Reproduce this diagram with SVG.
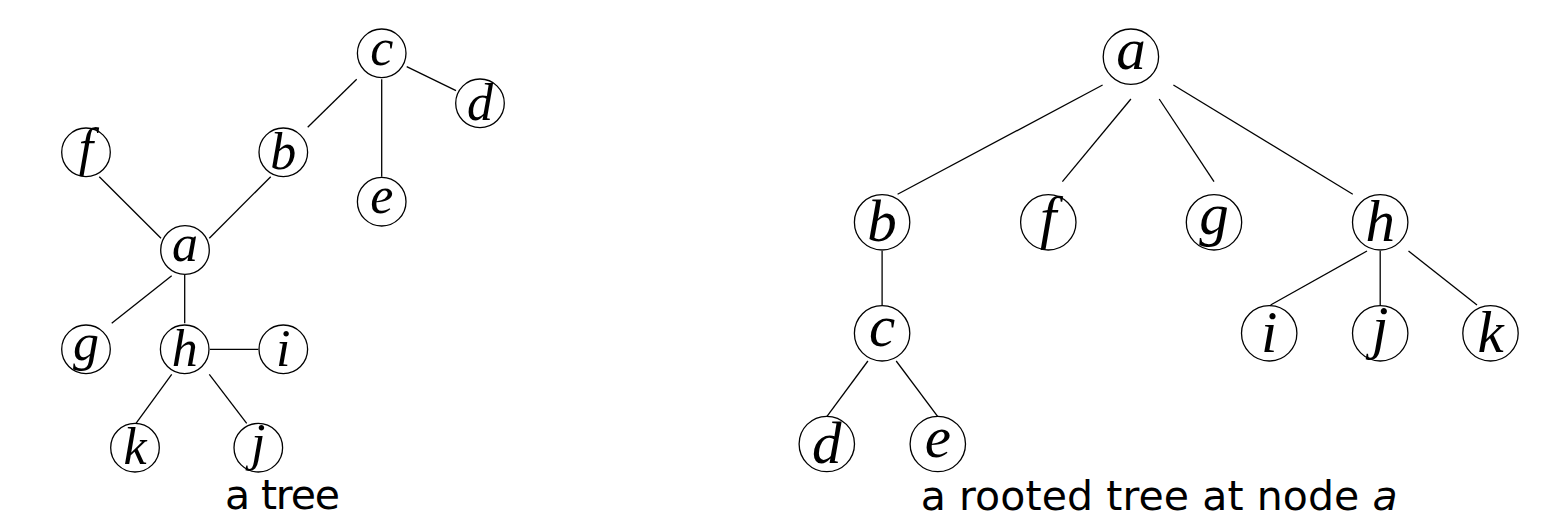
<svg xmlns="http://www.w3.org/2000/svg" width="1543" height="532" viewBox="0 0 1543 532">
<style>
  .bg { fill: #ffffff; }
  .edge { stroke: #000; stroke-width: 1.3; fill: none; }
  .node { fill: none; stroke: #000; stroke-width: 1.3; }
  .lbl { font-family: "Liberation Serif", "Times New Roman", serif; font-style: italic; text-anchor: middle; fill: #000; }
  .sm { font-size: 52px; }
  .lg { font-size: 59px; }
  .cap { font-family: "DejaVu Sans", "Liberation Sans", sans-serif; font-size: 41px; fill: #000; }
</style>
<rect class="bg" x="0" y="0" width="1543" height="532"/>

<g id="connectors">
  <!-- left tree -->
  <line class="edge" x1="356.7" y1="79.3" x2="307.7" y2="127.3"/>
  <line class="edge" x1="406.7" y1="66.7" x2="456" y2="90.7"/>
  <line class="edge" x1="381.7" y1="79.3" x2="381.7" y2="176.7"/>
  <line class="edge" x1="99.3" y1="176.7" x2="161" y2="238.3"/>
  <line class="edge" x1="209.3" y1="238.3" x2="270.7" y2="176.7"/>
  <line class="edge" x1="171.7" y1="275.7" x2="111.7" y2="323.3"/>
  <line class="edge" x1="184.7" y1="275" x2="184.7" y2="323.3"/>
  <line class="edge" x1="210" y1="349.3" x2="258.3" y2="349.3"/>
  <line class="edge" x1="171.7" y1="374.3" x2="136" y2="423.3"/>
  <line class="edge" x1="209.3" y1="374.3" x2="246.7" y2="423.3"/>
  <!-- right tree -->
  <line class="edge" x1="1102.6" y1="85" x2="897.6" y2="194.3"/>
  <line class="edge" x1="1130.9" y1="99" x2="1062.4" y2="181.7"/>
  <line class="edge" x1="1159.2" y1="99" x2="1214" y2="181.7"/>
  <line class="edge" x1="1173.4" y1="85" x2="1352.8" y2="194.3"/>
  <line class="edge" x1="882.1" y1="251" x2="882.1" y2="305"/>
  <line class="edge" x1="867.9" y1="361" x2="826.8" y2="416.7"/>
  <line class="edge" x1="896.2" y1="361" x2="937.8" y2="416.7"/>
  <line class="edge" x1="1367" y1="251" x2="1270.6" y2="305"/>
  <line class="edge" x1="1380.2" y1="251" x2="1380.2" y2="305"/>
  <line class="edge" x1="1408.5" y1="251" x2="1477" y2="305"/>
</g>

<!-- left tree nodes -->
<g id="L-c"><circle class="node" cx="381.7" cy="53.3" r="24.3"/><text class="lbl sm" x="381.7" y="64.5">c</text></g>
<g id="L-d"><circle class="node" cx="480" cy="103.3" r="24.3"/><text class="lbl sm" x="480" y="120">d</text></g>
<g id="L-b"><circle class="node" cx="283.3" cy="152.3" r="24.3"/><text class="lbl sm" x="283.3" y="168.8">b</text></g>
<g id="L-f"><circle class="node" cx="86" cy="152.3" r="24.3"/><text class="lbl sm" x="86" y="165">f</text></g>
<g id="L-e"><circle class="node" cx="381.7" cy="201.7" r="24.3"/><text class="lbl sm" x="381.7" y="212.7">e</text></g>
<g id="L-a"><circle class="node" cx="185" cy="250" r="24.3"/><text class="lbl sm" x="185" y="261">a</text></g>
<g id="L-g"><circle class="node" cx="86" cy="349.3" r="24.3"/><text class="lbl sm" x="86" y="360">g</text></g>
<g id="L-h"><circle class="node" cx="184.7" cy="349.3" r="24.3"/><text class="lbl sm" x="184.7" y="365.8">h</text></g>
<g id="L-i"><circle class="node" cx="283.3" cy="349.3" r="24.3"/><text class="lbl sm" x="283.3" y="365.8">i</text></g>
<g id="L-k"><circle class="node" cx="135" cy="447.7" r="24.3"/><text class="lbl sm" x="135" y="464.2">k</text></g>
<g id="L-j"><circle class="node" cx="258.3" cy="447.7" r="24.3"/><text class="lbl sm" x="258.3" y="460">j</text></g>

<!-- right tree nodes -->
<g id="R-a"><circle class="node" cx="1130.9" cy="56.7" r="27.7"/><text class="lbl lg" x="1130.9" y="69.2">a</text></g>
<g id="R-b"><circle class="node" cx="882.1" cy="222.3" r="27.7"/><text class="lbl lg" x="882.1" y="241.3">b</text></g>
<g id="R-f"><circle class="node" cx="1048.3" cy="222.3" r="27.7"/><text class="lbl lg" x="1048.3" y="237.3">f</text></g>
<g id="R-g"><circle class="node" cx="1214" cy="222.3" r="27.7"/><text class="lbl lg" x="1214" y="234.3">g</text></g>
<g id="R-h"><circle class="node" cx="1380.2" cy="222.3" r="27.7"/><text class="lbl lg" x="1380.2" y="241.3">h</text></g>
<g id="R-c"><circle class="node" cx="882.1" cy="333.3" r="27.7"/><text class="lbl lg" x="882.1" y="345.8">c</text></g>
<g id="R-d"><circle class="node" cx="826.8" cy="444" r="27.7"/><text class="lbl lg" x="826.8" y="463">d</text></g>
<g id="R-e"><circle class="node" cx="937.8" cy="444" r="27.7"/><text class="lbl lg" x="937.8" y="456.5">e</text></g>
<g id="R-i"><circle class="node" cx="1269.2" cy="333.3" r="27.7"/><text class="lbl lg" x="1269.2" y="352.3">i</text></g>
<g id="R-j"><circle class="node" cx="1380.2" cy="333.3" r="27.7"/><text class="lbl lg" x="1380.2" y="347.3">j</text></g>
<g id="R-k"><circle class="node" cx="1490.5" cy="333.3" r="27.7"/><text class="lbl lg" x="1490.5" y="352.3">k</text></g>

<g id="captions">
  <text class="cap" x="225" y="508.5" textLength="115" lengthAdjust="spacing">a tree</text>
  <text class="cap" x="920.7" y="509.5" textLength="477" lengthAdjust="spacing">a rooted tree at node <tspan font-style="italic">a</tspan></text>
</g>
</svg>
